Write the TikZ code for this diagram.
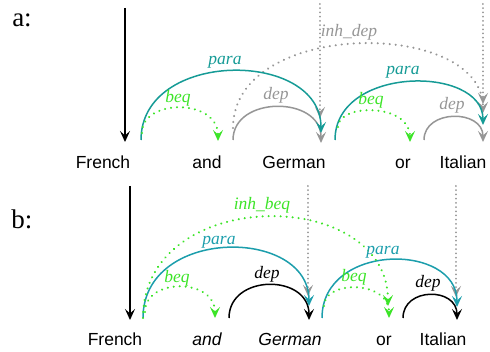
\documentclass[tikz,border=0pt]{standalone}
\usepackage{fontspec}
\setmainfont{Liberation Serif}
\setsansfont{Liberation Sans}
\usetikzlibrary{arrows.meta}
\definecolor{teala}{RGB}{22,155,150}
\definecolor{tealb}{RGB}{28,158,172}
\definecolor{grn}{RGB}{60,228,40}
\definecolor{gry}{RGB}{150,150,150}
\begin{document}
\begin{tikzpicture}[x=1pt,y=-1pt,
  >={Stealth[open,length=11pt,width=10pt,inset=4.5pt]},
  word/.style={font=\sffamily\fontsize{17.5}{17.5}\selectfont,anchor=base,inner sep=0pt},
  lab/.style={font=\itshape\fontsize{17.5}{17.5}\selectfont,anchor=base,inner sep=0pt},
  panel/.style={font=\fontsize{27}{27}\selectfont,anchor=base,inner sep=0pt},
  rel/.style={line width=1.5pt,->},
  dotline/.style={line width=2.3pt,line cap=round,dash pattern=on 0.01pt off 6pt},
  vdots/.style={line width=2pt,line cap=round,dash pattern=on 0.01pt off 4.2pt,gry,->}]
\useasboundingbox (0,0) rectangle (490,352);
% ---------- panel a ----------
\node[panel] (pa) at (22,27) {a:};
\node[word] (aFrench) at (103,169) {French};
\node[word] (aand) at (207,169) {and};
\node[word] (aGerman) at (294,169) {German};
\node[word] (aor) at (403,169) {or};
\node[word] (aItalian) at (463,169) {Italian};
\coordinate (aroot) at (125,8);
\coordinate (aFrT) at (125,142);
\coordinate (aFr1) at (141,140);
\coordinate (aFr2) at (142,133);
\coordinate (aAn) at (218,141);
\coordinate (aGeL) at (233,140);
\coordinate (aGeL2) at (233,128);
\coordinate (aGe1) at (321,133);
\coordinate (aGe2) at (321,143);
\coordinate (aGeTop) at (320,4);
\coordinate (aGeV) at (320,118);
\coordinate (aGeR) at (335,140);
\coordinate (aGeR2) at (338,127);
\coordinate (aOr) at (410,142);
\coordinate (aOrR) at (424,140);
\coordinate (aItTop) at (483,4);
\coordinate (aItV) at (483,104);
\coordinate (aIt1) at (483,113);
\coordinate (aIt2) at (483,125);
\coordinate (aIt3) at (483,142);
\draw[line width=1.5pt,->] (aroot) -- (aFrT);
\draw[vdots] (aGeTop) -- (aGeV);
\draw[vdots] (aItTop) -- (aItV);
\draw[dotline,gry,->] (aGeL2) .. controls +(0,-109.5) and +(0,-94.5) .. (aIt1);
\draw[rel,gry] (aGeL) .. controls +(0,-44.5) and +(0,-47.5) .. (aGe2);
\draw[rel,gry] (aOrR) .. controls +(0,-31) and +(0,-33) .. (aIt3);
\draw[rel,teala] (aFr1) .. controls +(0,-90.8) and +(0,-83.8) .. (aGe1);
\draw[rel,teala] (aGeR) .. controls +(0,-74.8) and +(0,-59.8) .. (aIt2);
\draw[dotline,grn,->] (aFr2) .. controls +(0,-34.7) and +(0,-42.7) .. (aAn);
\draw[dotline,grn,->] (aGeR2) .. controls +(0,-23.8) and +(0,-38.8) .. (aOr);
\node[lab,teala] (lpa1) at (225,65) {para};
\node[lab,grn] (lba1) at (178,103) {beq};
\node[lab,gry] (lda1) at (276,100) {dep};
\node[lab,gry] (lia) at (349,37) {inh\_dep};
\node[lab,teala] (lpa2) at (403,75) {para};
\node[lab,grn] (lba2) at (371,105) {beq};
\node[lab,gry] (lda2) at (452,110) {dep};
% ---------- panel b ----------
\node[panel] (pb) at (22,229) {b:};
\node[word] (bFrench) at (115,346) {French};
\node[word,font=\sffamily\itshape\fontsize{17.5}{17.5}\selectfont] (band) at (207,346) {and};
\node[word,font=\sffamily\itshape\fontsize{17.5}{17.5}\selectfont] (bGerman) at (290,346) {German};
\node[word] (bor) at (384,346) {or};
\node[word] (bItalian) at (443,346) {Italian};
\coordinate (broot) at (130,186);
\coordinate (bFrT) at (130,320);
\coordinate (bFr1) at (143,318);
\coordinate (bFr2) at (145,312);
\coordinate (bAn) at (215,318);
\coordinate (bGeL) at (229,318);
\coordinate (bGeTop) at (308,186);
\coordinate (bGeV) at (308,296);
\coordinate (bGe1) at (309,306);
\coordinate (bGe2) at (309,320);
\coordinate (bGeR) at (322,318);
\coordinate (bGeR2) at (324,306);
\coordinate (bOr1) at (388,306);
\coordinate (bOr2) at (389,318);
\coordinate (bOrR) at (403,318);
\coordinate (bItTop) at (456,186);
\coordinate (bItV) at (456,297);
\coordinate (bIt1) at (457,307);
\coordinate (bIt2) at (457,320);
\draw[line width=1.5pt,->] (broot) -- (bFrT);
\draw[vdots] (bGeTop) -- (bGeV);
\draw[vdots] (bItTop) -- (bItV);
\draw[rel,black] (bGeL) .. controls +(0,-44.3) and +(0,-46.3) .. (bGe2);
\draw[rel,black] (bOrR) .. controls +(0,-31) and +(0,-33) .. (bIt2);
\draw[rel,tealb] (bFr1) .. controls +(0,-91.3) and +(0,-79.3) .. (bGe1);
\draw[rel,tealb] (bGeR) .. controls +(0,-75.5) and +(0,-64.5) .. (bIt1);
\draw[dotline,grn,->] (bFr1) .. controls +(0,-132.7) and +(0,-120.7) .. (bOr1);
\draw[dotline,grn,->] (bFr2) .. controls +(0,-34.3) and +(0,-40.3) .. (bAn);
\draw[dotline,grn,->] (bGeR2) .. controls +(0,-26) and +(0,-38) .. (bOr2);
\node[lab,grn] (lib) at (262,210) {inh\_beq};
\node[lab,tealb] (lpb1) at (219,245) {para};
\node[lab,grn] (lbb1) at (177,283) {beq};
\node[lab,black] (ldb1) at (267,279) {dep};
\node[lab,tealb] (lpb2) at (383,255) {para};
\node[lab,grn] (lbb2) at (354,282) {beq};
\node[lab,black] (ldb2) at (428,288) {dep};
\end{tikzpicture}
\end{document}
